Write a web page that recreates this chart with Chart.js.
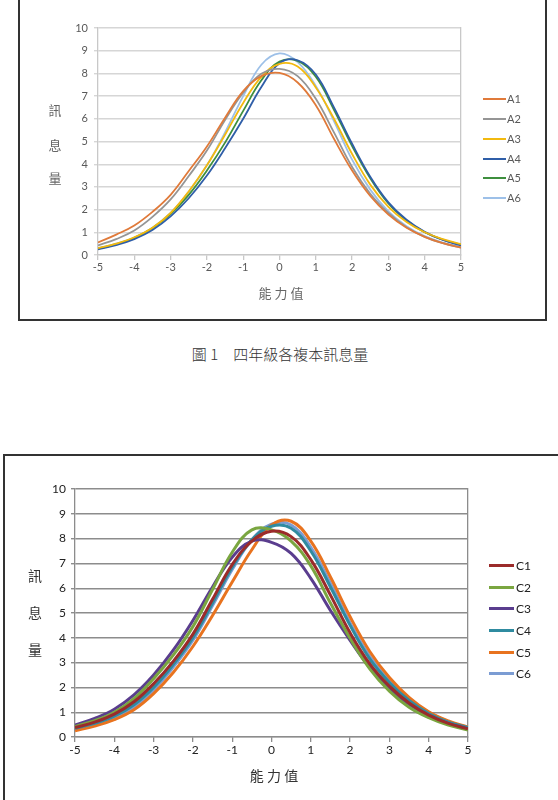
<!DOCTYPE html>
<html>
<head>
<meta charset="utf-8">
<script src="https://cdn.jsdelivr.net/npm/chart.js@4.4.1/dist/chart.umd.min.js"></script>
<style>
  html, body { margin: 0; padding: 0; background: #fff; }
  body { width: 558px; height: 800px; position: relative; overflow: hidden; font-family: "Noto Sans CJK TC", "Noto Sans", sans-serif; }
  .frame { position: absolute; border: 2px solid #333; box-sizing: border-box; }
  .abs { position: absolute; }
  .ytitle { position: absolute; text-align: center; }
  .ytitle div { position: absolute; left: -10px; width: 20px; text-align: center; }
  .leg { position: absolute; }
  .leg .ln { position: absolute; left: 0; }
  .leg .tx { position: absolute; font-family: Lato, "Liberation Sans", sans-serif; white-space: nowrap; }
</style>
</head>
<body>
<div class="frame" style="left:18px; top:-6px; width:529px; height:327px;"></div>
<div class="frame" style="left:3px; top:454px; width:565px; height:360px;"></div>

<div class="abs" style="left:0; top:0; width:558px; height:320px;"><canvas id="c1" width="558" height="320"></canvas></div>
<div class="abs" style="left:0; top:455px; width:558px; height:345px;"><canvas id="c2" width="558" height="345"></canvas></div>

<div id="yt1" class="ytitle" style="left:55px; top:0; color:#666; font-size:13px;"></div>
<div id="xt1" class="abs" style="left:231px; top:283px; width:100px; text-align:center; color:#666; font-size:13px;"></div>
<div id="leg1" class="leg" style="left:483px; top:0;"></div>

<div id="cap" class="abs" style="left:130px; top:343px; width:300px; text-align:center; color:#333; font-size:15px; font-weight:300; white-space:pre;"></div>

<div id="yt2" class="ytitle" style="left:35px; top:0; color:#333; font-size:14px;"></div>
<div id="xt2" class="abs" style="left:224px; top:765px; width:100px; text-align:center; color:#333; font-size:14px;"></div>
<div id="leg2" class="leg" style="left:489px; top:0;"></div>

<script>
// ---------- data ----------
const abilities = [-5, -4.5, -4, -3.5, -3, -2.5, -2, -1.5, -1, -0.5, 0, 0.5, 1, 1.5, 2, 2.5, 3, 3.5, 4, 4.5, 5];
const xTickLabels = ["-5", "-4", "-3", "-2", "-1", "0", "1", "2", "3", "4", "5"];
const yTickLabels = ["0", "1", "2", "3", "4", "5", "6", "7", "8", "9", "10"];

const seriesNamesA = ["A1", "A2", "A3", "A4", "A5", "A6"];
const A1 = [0.55, 0.90, 1.30, 1.90, 2.65, 3.70, 4.78, 6.05, 7.22, 7.88, 8.02, 7.60, 6.60, 5.12, 3.72, 2.60, 1.78, 1.20, 0.80, 0.52, 0.33];
const A2 = [0.42, 0.70, 1.08, 1.68, 2.45, 3.48, 4.60, 5.95, 7.15, 7.98, 8.20, 7.88, 6.88, 5.40, 3.88, 2.70, 1.85, 1.22, 0.80, 0.52, 0.33];
const A3 = [0.30, 0.50, 0.78, 1.20, 1.85, 2.80, 3.95, 5.30, 6.70, 7.85, 8.42, 8.30, 7.38, 6.00, 4.45, 3.10, 2.12, 1.45, 1.00, 0.70, 0.48];
const A4 = [0.25, 0.44, 0.70, 1.10, 1.70, 2.50, 3.50, 4.70, 6.00, 7.40, 8.45, 8.58, 7.95, 6.50, 4.90, 3.45, 2.32, 1.55, 1.02, 0.66, 0.42];
const A5 = [0.28, 0.48, 0.76, 1.18, 1.80, 2.65, 3.72, 4.95, 6.35, 7.70, 8.52, 8.55, 7.85, 6.40, 4.80, 3.38, 2.27, 1.52, 1.00, 0.68, 0.45];
const A6 = [0.30, 0.50, 0.76, 1.20, 1.85, 2.78, 3.95, 5.40, 7.00, 8.38, 8.88, 8.50, 7.45, 5.90, 4.20, 2.88, 1.92, 1.27, 0.83, 0.55, 0.35];

const seriesNamesC = ["C1", "C2", "C3", "C4", "C5", "C6"];
const C1 = [0.38, 0.60, 0.92, 1.42, 2.15, 3.05, 4.15, 5.55, 6.95, 7.90, 8.30, 8.08, 7.15, 5.72, 4.20, 2.95, 2.05, 1.37, 0.88, 0.55, 0.33];
const C2 = [0.42, 0.66, 1.00, 1.55, 2.35, 3.30, 4.45, 5.95, 7.45, 8.35, 8.35, 7.90, 6.90, 5.40, 3.98, 2.75, 1.85, 1.20, 0.78, 0.48, 0.28];
const C3 = [0.48, 0.75, 1.12, 1.70, 2.50, 3.50, 4.70, 6.05, 7.25, 7.90, 7.85, 7.40, 6.40, 5.10, 3.90, 2.80, 1.95, 1.32, 0.85, 0.54, 0.33];
const C4 = [0.35, 0.55, 0.84, 1.30, 2.00, 2.92, 4.00, 5.40, 6.85, 7.95, 8.50, 8.42, 7.50, 6.05, 4.50, 3.15, 2.20, 1.47, 0.95, 0.60, 0.38];
const C5 = [0.25, 0.44, 0.70, 1.10, 1.75, 2.60, 3.65, 4.90, 6.25, 7.55, 8.55, 8.70, 7.90, 6.45, 4.85, 3.45, 2.40, 1.60, 1.02, 0.65, 0.40];
const C6 = [0.30, 0.50, 0.76, 1.20, 1.90, 2.82, 3.90, 5.30, 6.75, 7.95, 8.58, 8.55, 7.65, 6.20, 4.60, 3.25, 2.25, 1.50, 1.00, 0.62, 0.38];

const colorsA = ["#E07A3A", "#959595", "#F2B90F", "#2F5EA8", "#3E8F3E", "#9DC0E8"];
const colorsC = ["#9B2B2A", "#7AA640", "#5A3D8E", "#2F8BA0", "#E8731F", "#7B9CD3"];

const captionText = "圖 1\u3000四年級各複本訊息量";
const yTitleChars = ["訊", "息", "量"];
const xTitleText = "能 力 值";

// ---------- helpers ----------
function toPoints(arr) { return abilities.map((x, i) => ({ x: x, y: arr[i] })); }

function makeChart(id, names, arrays, colors, cfg) {
  const datasets = names.map((n, i) => ({
    label: n,
    data: toPoints(arrays[i]),
    borderColor: colors[i],
    backgroundColor: colors[i],
    borderWidth: cfg.lineWidth,
    pointRadius: 0,
    tension: 0.4,
    fill: false
  }));
  return new Chart(document.getElementById(id), {
    type: 'line',
    data: { datasets: datasets },
    options: {
      responsive: false,
      animation: false,
      devicePixelRatio: 1,
      layout: { padding: cfg.padding },
      plugins: { legend: { display: false }, tooltip: { enabled: false } },
      scales: {
        x: {
          type: 'linear', min: -5, max: 5,
          afterFit: s => { s.height = cfg.xHeight; },
          afterBuildTicks: s => { s.ticks = xTickLabels.map(t => ({ value: Number(t) })); },
          ticks: { stepSize: 1, padding: cfg.xPad, color: cfg.tickColor, font: { family: 'Lato', size: cfg.tickSize }, maxRotation: 0,
                   callback: (v) => xTickLabels[xTickLabels.indexOf(String(v))] },
          grid: { drawOnChartArea: false, drawTicks: true, tickLength: 5, color: cfg.axisColor, lineWidth: 1.3 },
          border: { display: true, color: cfg.axisColor, width: 1.3 }
        },
        y: {
          min: 0, max: 10,
          afterFit: s => { s.width = cfg.yWidth; },
          afterBuildTicks: s => { s.ticks = yTickLabels.map(t => ({ value: Number(t) })); },
          ticks: { stepSize: 1, padding: cfg.yPad, color: cfg.tickColor, font: { family: 'Lato', size: cfg.tickSize },
                   callback: (v) => yTickLabels[yTickLabels.indexOf(String(v))] },
          grid: { drawOnChartArea: true, drawTicks: true, tickLength: 4, color: cfg.gridColor, lineWidth: 1.4 },
          border: { display: true, color: cfg.axisColor, width: 1.3 }
        },
        y2: {
          position: 'right', min: 0, max: 10,
          afterFit: s => { s.width = 0; },
          ticks: { display: false },
          grid: { drawOnChartArea: false, drawTicks: false },
          border: { display: true, color: cfg.axisColor, width: 1.3 }
        }
      }
    }
  });
}

makeChart('c1', seriesNamesA, [A1, A2, A3, A4, A5, A6], colorsA, {
  lineWidth: 1.8, padding: { left: 0, right: 97, top: 28, bottom: 0 },
  xHeight: 65, yWidth: 98, xPad: 1, yPad: 6, tickColor: '#595959', tickSize: 11,
  gridColor: '#D6D6D6', axisColor: '#C8C8C8'
});
makeChart('c2', seriesNamesC, [C1, C2, C3, C4, C5, C6], colorsC, {
  lineWidth: 3, padding: { left: 0, right: 90, top: 34, bottom: 0 },
  xHeight: 63, yWidth: 75, xPad: 1, yPad: 5, tickColor: '#222', tickSize: 12,
  gridColor: '#8C8C8C', axisColor: '#8C8C8C'
});

// ---------- text elements ----------
function yTitle(id, tops) {
  const el = document.getElementById(id);
  yTitleChars.forEach((ch, i) => {
    const d = document.createElement('div');
    d.textContent = ch;
    d.style.top = tops[i] + 'px';
    el.appendChild(d);
  });
}
yTitle('yt1', [100, 135, 168]);
yTitle('yt2', [565, 602, 639]);
document.getElementById('xt1').textContent = xTitleText;
document.getElementById('xt2').textContent = xTitleText;
document.getElementById('cap').textContent = captionText;

function legend(id, names, colors, rows, lineW, lineH, fontSize, textLeft, textColor) {
  const el = document.getElementById(id);
  names.forEach((n, i) => {
    const ln = document.createElement('div');
    ln.className = 'ln';
    ln.style.top = (rows[i] - lineH / 2) + 'px';
    ln.style.width = lineW + 'px';
    ln.style.height = lineH + 'px';
    ln.style.background = colors[i];
    el.appendChild(ln);
    const tx = document.createElement('div');
    tx.className = 'tx';
    tx.textContent = n;
    tx.style.left = textLeft + 'px';
    tx.style.top = (rows[i] - fontSize * 0.62) + 'px';
    tx.style.fontSize = fontSize + 'px';
    tx.style.color = textColor;
    el.appendChild(tx);
  });
}
legend('leg1', seriesNamesA, colorsA, [99, 118.5, 138.5, 158.5, 178, 198], 23, 2, 11, 24, '#595959');
legend('leg2', seriesNamesC, colorsC, [565, 587, 608.5, 630, 652, 673], 25, 3, 12, 27, '#222');
</script>
</body>
</html>
